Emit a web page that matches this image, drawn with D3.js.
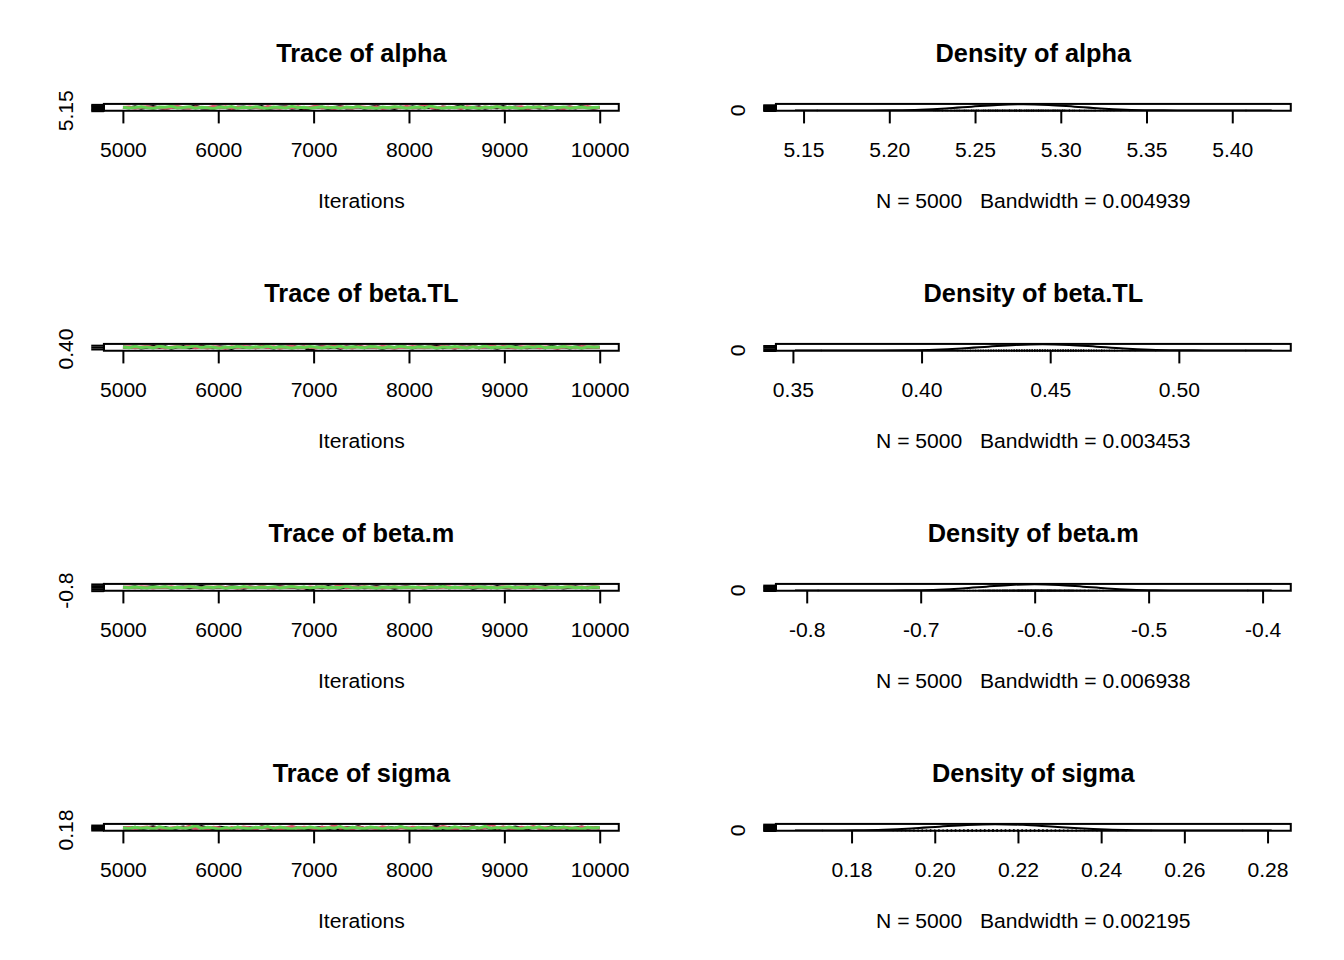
<!DOCTYPE html>
<html><head><meta charset="utf-8">
<script src="https://cdn.jsdelivr.net/npm/d3@7"></script>
<style>
body{margin:0;background:#fff}
text{font-family:"Liberation Sans",Arial,Helvetica,sans-serif;fill:#000}
</style>
</head><body>
<svg id="c" width="1344" height="960"></svg>
<script>
// ---------------- data ----------------
const params = ["alpha", "beta.TL", "beta.m", "sigma"];
const bandwidths = ["0.004939", "0.003453", "0.006938", "0.002195"];
const nSamples = 5000;
const iterStart = 5001, iterEnd = 10000;
const chainColors = ["#000000", "#DF536B", "#61D04F"];

// thinned trace values (3 chains) per parameter
const traceAlpha = [
 [5.281,5.262,5.301,5.247,5.290,5.312,5.268,5.239,5.285,5.296,5.254,5.273,5.329,5.260,5.244,5.288,5.307,5.271,5.226,5.283,
  5.299,5.258,5.275,5.318,5.241,5.266,5.292,5.305,5.251,5.280,5.158,5.264,5.295,5.287,5.233,5.276,5.314,5.259,5.270,5.302,
  5.248,5.284,5.323,5.263,5.279,5.238,5.293,5.269,5.308,5.255,5.286,5.274,5.231,5.297,5.265,5.289,5.340,5.252,5.277,5.301,
  5.243,5.282,5.267,5.311,5.256,5.291,5.273,5.236,5.298,5.261,5.284,5.305,5.249,5.276,5.294,5.258,5.320,5.271,5.245,5.287],
 [5.272,5.295,5.250,5.283,5.307,5.261,5.289,5.240,5.277,5.316,5.266,5.248,5.293,5.281,5.258,5.325,5.270,5.302,5.237,5.286,
  5.263,5.299,5.274,5.252,5.310,5.280,5.244,5.291,5.268,5.305,5.256,5.279,5.335,5.262,5.287,5.229,5.296,5.273,5.251,5.313,
  5.284,5.260,5.300,5.242,5.276,5.292,5.267,5.319,5.254,5.282,5.408,5.270,5.246,5.297,5.264,5.288,5.234,5.303,5.278,5.257,
  5.294,5.271,5.315,5.249,5.285,5.266,5.301,5.239,5.280,5.308,5.259,5.290,5.274,5.227,5.298,5.263,5.283,5.311,5.255,5.276],
 [5.288,5.256,5.276,5.309,5.263,5.241,5.297,5.282,5.320,5.259,5.274,5.301,5.245,5.286,5.267,5.231,5.293,5.278,5.314,5.252,
  5.283,5.262,5.305,5.270,5.238,5.296,5.281,5.257,5.327,5.265,5.290,5.248,5.275,5.303,5.260,5.287,5.243,5.299,5.272,5.311,
  5.255,5.279,5.236,5.292,5.268,5.306,5.284,5.250,5.273,5.298,5.262,5.331,5.277,5.246,5.289,5.266,5.302,5.253,5.281,5.240,
  5.295,5.270,5.317,5.258,5.285,5.264,5.228,5.291,5.276,5.304,5.251,5.287,5.269,5.300,5.244,5.280,5.296,5.261,5.274,5.289]
];
const traceBetaTL = [
 [0.452,0.438,0.461,0.429,0.447,0.470,0.441,0.456,0.423,0.449,0.466,0.435,0.451,0.478,0.443,0.430,0.458,0.446,0.414,0.462,
  0.440,0.455,0.433,0.468,0.448,0.426,0.459,0.444,0.472,0.437,0.453,0.361,0.445,0.464,0.431,0.450,0.418,0.457,0.442,0.475,
  0.434,0.460,0.447,0.421,0.454,0.439,0.467,0.445,0.428,0.463,0.441,0.456,0.483,0.436,0.449,0.425,0.461,0.443,0.470,0.432,
  0.458,0.446,0.419,0.453,0.438,0.465,0.444,0.430,0.459,0.448,0.435,0.471,0.442,0.456,0.427,0.451,0.464,0.440,0.454,0.446],
 [0.444,0.459,0.432,0.451,0.468,0.437,0.455,0.424,0.448,0.462,0.441,0.476,0.435,0.453,0.427,0.460,0.446,0.416,0.457,0.439,
  0.466,0.449,0.431,0.463,0.442,0.455,0.420,0.450,0.473,0.436,0.458,0.444,0.429,0.461,0.447,0.491,0.438,0.452,0.426,0.465,
  0.443,0.457,0.433,0.469,0.445,0.422,0.454,0.440,0.462,0.448,0.430,0.459,0.437,0.474,0.446,0.425,0.456,0.441,0.467,0.434,
  0.451,0.526,0.439,0.463,0.444,0.428,0.458,0.447,0.470,0.436,0.453,0.442,0.417,0.460,0.449,0.432,0.465,0.443,0.455,0.438],
 [0.449,0.436,0.463,0.442,0.455,0.428,0.470,0.445,0.433,0.458,0.440,0.452,0.481,0.437,0.460,0.446,0.422,0.454,0.439,0.467,
  0.443,0.431,0.457,0.448,0.473,0.434,0.461,0.445,0.419,0.452,0.438,0.465,0.447,0.427,0.456,0.441,0.469,0.435,0.459,0.444,
  0.430,0.462,0.450,0.424,0.457,0.439,0.471,0.446,0.433,0.460,0.443,0.455,0.421,0.451,0.437,0.466,0.448,0.429,0.458,0.442,
  0.475,0.436,0.453,0.440,0.462,0.447,0.426,0.457,0.444,0.468,0.432,0.454,0.441,0.463,0.437,0.450,0.423,0.459,0.445,0.452]
];
const traceBetaM = [
 [-0.592,-0.618,-0.571,-0.633,-0.597,-0.556,-0.611,-0.584,-0.646,-0.603,-0.575,-0.622,-0.589,-0.540,-0.607,-0.631,-0.580,-0.614,-0.563,-0.599,
  -0.652,-0.587,-0.609,-0.568,-0.625,-0.594,-0.549,-0.616,-0.582,-0.637,-0.601,-0.790,-0.578,-0.620,-0.560,-0.605,-0.641,-0.586,-0.613,-0.572,
  -0.628,-0.596,-0.553,-0.610,-0.583,-0.657,-0.598,-0.566,-0.619,-0.590,-0.635,-0.577,-0.604,-0.545,-0.623,-0.593,-0.612,-0.569,-0.648,-0.600,
  -0.581,-0.626,-0.558,-0.608,-0.639,-0.588,-0.615,-0.574,-0.630,-0.595,-0.552,-0.617,-0.585,-0.643,-0.602,-0.567,-0.621,-0.591,-0.579,-0.606],
 [-0.607,-0.583,-0.629,-0.561,-0.598,-0.644,-0.590,-0.616,-0.570,-0.624,-0.595,-0.551,-0.612,-0.638,-0.586,-0.603,-0.565,-0.627,-0.591,-0.659,
  -0.599,-0.576,-0.620,-0.547,-0.608,-0.634,-0.582,-0.613,-0.562,-0.597,-0.640,-0.588,-0.605,-0.573,-0.631,-0.594,-0.413,-0.618,-0.580,-0.609,
  -0.555,-0.626,-0.593,-0.649,-0.601,-0.568,-0.614,-0.587,-0.636,-0.578,-0.604,-0.543,-0.622,-0.596,-0.571,-0.632,-0.589,-0.611,-0.559,-0.600,
  -0.645,-0.585,-0.619,-0.574,-0.606,-0.628,-0.564,-0.597,-0.641,-0.592,-0.615,-0.577,-0.633,-0.602,-0.550,-0.610,-0.586,-0.624,-0.569,-0.603],
 [-0.596,-0.621,-0.578,-0.610,-0.642,-0.587,-0.604,-0.563,-0.626,-0.593,-0.615,-0.548,-0.601,-0.635,-0.582,-0.609,-0.572,-0.654,-0.597,-0.619,
  -0.560,-0.606,-0.630,-0.589,-0.613,-0.574,-0.639,-0.595,-0.557,-0.617,-0.584,-0.647,-0.603,-0.570,-0.625,-0.592,-0.612,-0.546,-0.608,-0.637,
  -0.581,-0.599,-0.662,-0.588,-0.614,-0.566,-0.628,-0.594,-0.576,-0.611,-0.640,-0.585,-0.605,-0.553,-0.622,-0.598,-0.633,-0.579,-0.608,-0.567,
  -0.618,-0.591,-0.643,-0.600,-0.573,-0.627,-0.589,-0.611,-0.556,-0.602,-0.636,-0.583,-0.614,-0.594,-0.570,-0.624,-0.599,-0.645,-0.587,-0.606]
];
const traceSigma = [
 [0.216,0.209,0.224,0.203,0.218,0.231,0.211,0.220,0.198,0.214,0.227,0.207,0.219,0.238,0.212,0.201,0.223,0.215,0.195,0.226,
  0.210,0.217,0.204,0.233,0.213,0.199,0.222,0.208,0.229,0.216,0.205,0.173,0.214,0.225,0.202,0.218,0.192,0.221,0.211,0.236,
  0.206,0.219,0.214,0.197,0.224,0.209,0.230,0.215,0.200,0.222,0.212,0.217,0.244,0.207,0.220,0.196,0.226,0.213,0.234,0.203,
  0.219,0.210,0.193,0.223,0.208,0.228,0.214,0.201,0.225,0.216,0.205,0.232,0.211,0.219,0.199,0.215,0.227,0.209,0.221,0.213],
 [0.212,0.221,0.204,0.217,0.230,0.207,0.219,0.196,0.214,0.226,0.209,0.240,0.203,0.218,0.198,0.224,0.213,0.191,0.222,0.208,
  0.229,0.215,0.201,0.227,0.211,0.220,0.194,0.216,0.235,0.206,0.223,0.212,0.199,0.225,0.214,0.252,0.208,0.218,0.197,0.228,
  0.210,0.221,0.202,0.232,0.213,0.195,0.219,0.207,0.226,0.215,0.200,0.224,0.206,0.239,0.214,0.197,0.220,0.209,0.231,0.204,
  0.217,0.274,0.208,0.227,0.212,0.199,0.223,0.214,0.234,0.205,0.218,0.210,0.190,0.225,0.216,0.203,0.229,0.211,0.220,0.207],
 [0.215,0.206,0.226,0.210,0.222,0.199,0.233,0.213,0.203,0.224,0.208,0.218,0.246,0.205,0.225,0.214,0.194,0.220,0.207,0.230,
  0.211,0.201,0.223,0.216,0.237,0.204,0.227,0.212,0.192,0.219,0.206,0.229,0.215,0.198,0.221,0.209,0.234,0.203,0.225,0.212,
  0.200,0.227,0.217,0.196,0.222,0.208,0.236,0.214,0.202,0.226,0.210,0.221,0.193,0.218,0.205,0.231,0.215,0.199,0.224,0.211,
  0.239,0.204,0.219,0.209,0.228,0.214,0.197,0.223,0.212,0.232,0.201,0.220,0.208,0.230,0.205,0.217,0.195,0.225,0.213,0.219]
];

// density curves
const densAlphaX = [5.145,5.160,5.175,5.188,5.203,5.218,5.233,5.248,5.263,5.278,5.293,5.308,5.323,5.338,5.353,5.368,5.383,5.398,5.413,5.423];
const densAlphaY = [0.01,0.03,0.04,0.15,0.58,1.80,4.32,8.07,11.74,13.30,11.74,8.07,4.32,1.80,0.58,0.15,0.03,0.01,0.02,0.01];
const densBetaTLX = [0.3508,0.3612,0.3735,0.3840,0.3945,0.4050,0.4155,0.4260,0.4365,0.4470,0.4575,0.4680,0.4785,0.4890,0.4995,0.5100,0.5205,0.5310,0.5361];
const densBetaTLY = [0.01,0.03,0.04,0.21,0.83,2.56,6.14,11.46,16.68,18.90,16.68,11.46,6.14,2.56,0.83,0.21,0.04,0.03,0.01];
const densBetaMX = [-0.8103,-0.7895,-0.7700,-0.7484,-0.7272,-0.7060,-0.6848,-0.6636,-0.6424,-0.6212,-0.6000,-0.5788,-0.5576,-0.5364,-0.5152,-0.4940,-0.4728,-0.4516,-0.4300,-0.4128,-0.3920];
const densBetaMY = [0.01,0.02,0.01,0.02,0.10,0.41,1.27,3.06,5.71,8.30,9.41,8.30,5.71,3.06,1.27,0.41,0.10,0.02,0.01,0.02,0.01];
const densSigmaX = [0.1664,0.1743,0.1810,0.1877,0.1944,0.2011,0.2078,0.2145,0.2212,0.2279,0.2346,0.2413,0.2480,0.2547,0.2614,0.2681,0.2744,0.2810];
const densSigmaY = [0.05,0.33,1.31,4.03,9.68,18.07,26.30,29.80,26.60,18.60,10.40,4.60,1.60,0.45,0.10,0.03,0.02,0.01];

const traces = [traceAlpha, traceBetaTL, traceBetaM, traceSigma];
const densX = [densAlphaX, densBetaTLX, densBetaMX, densSigmaX];
const densY = [densAlphaY, densBetaTLY, densBetaMY, densSigmaY];

// ---------------- layout ----------------
const W = 1344, H = 960;
const LINE = 25.344;            // one margin line in px
const FS = 21.12, TFS = 25.344; // axis / title font sizes
const TICK = LINE / 2;
const LW = 2;
const svg = d3.select("#c");
svg.append("rect").attr("width", W).attr("height", H).attr("fill", "#fff");

function boxOf(col, row) {
  return {
    x0: col * 672 + 4.1 * LINE, x1: col * 672 + 672 - 2.1 * LINE,
    y0: row * 240 + 4.1 * LINE, y1: row * 240 + 240 - 5.1 * LINE
  };
}
function pad(ext) { const r = ext[1] - ext[0]; return [ext[0] - 0.04 * r, ext[1] + 0.04 * r]; }
const fmtFix = f => (v => f(v).replace("\u2212", "-").replace(/,/g, ""));

function drawAxes(g, b, x, y) {
  // bottom axis
  const xf = fmtFix(x.tickFormat(5));
  const ax = g.append("g").attr("transform", `translate(0,${b.y1})`)
    .call(d3.axisBottom(x).ticks(5).tickSize(TICK).tickSizeOuter(0).tickFormat(xf));
  ax.select(".domain").remove();
  ax.selectAll("line").attr("stroke", "#000").attr("stroke-width", LW);
  ax.selectAll("text").attr("y", 46.5).attr("dy", null)
    .style("font-size", FS + "px").attr("fill", "#000");
  // left axis: axis line from first to last tick plus ticks
  const yf = fmtFix(y.tickFormat(5));
  const ticks = y.ticks(5).slice().sort((a, c) => a - c);
  g.append("line").attr("x1", b.x0).attr("x2", b.x0)
    .attr("y1", y(ticks[0])).attr("y2", y(ticks[ticks.length - 1]))
    .attr("stroke", "#000").attr("stroke-width", LW).attr("stroke-linecap", "square");
  const ay = g.append("g").attr("transform", `translate(${b.x0},0)`)
    .call(d3.axisLeft(y).ticks(5).tickSize(TICK).tickSizeOuter(0).tickFormat(yf));
  ay.select(".domain").remove();
  ay.selectAll("line").attr("stroke", "#000").attr("stroke-width", LW);
  ay.selectAll("text").remove();
  let lastPos = null;
  ticks.forEach(t => {
    const py = y(t);
    const tx = g.append("text")
      .attr("transform", `translate(${b.x0 - 30.5},${py}) rotate(-90)`)
      .attr("text-anchor", "middle").style("font-size", FS + "px").text(yf(t));
    const w = tx.node().getComputedTextLength();
    if (lastPos !== null && (lastPos - py) < w + FS * 0.5) { tx.remove(); return; }
    lastPos = py;
  });
}

params.forEach((name, row) => {
  // ---- trace panel ----
  const b = boxOf(0, row);
  const chains = traces[row];
  const allVals = chains.flat();
  const x = d3.scaleLinear().domain(pad([iterStart, iterEnd])).range([b.x0, b.x1]);
  const y = d3.scaleLinear().domain(pad(d3.extent(allVals))).range([b.y1, b.y0]);
  const g = svg.append("g");
  const cid = "clipT" + row;
  svg.append("clipPath").attr("id", cid).append("rect")
    .attr("x", b.x0).attr("y", b.y0).attr("width", b.x1 - b.x0).attr("height", b.y1 - b.y0);
  const n = chains[0].length;
  const iterAt = i => iterStart + i * (iterEnd - iterStart) / (n - 1);
  const line = d3.line().x((d, i) => x(iterAt(i))).y(d => y(d));
  chains.forEach((ch, k) => {
    g.append("path").attr("d", line(ch)).attr("fill", "none")
      .attr("stroke", chainColors[k]).attr("stroke-width", 3)
      .attr("clip-path", `url(#${cid})`);
  });
  drawAxes(g, b, x, y);
  g.append("rect").attr("x", b.x0).attr("y", b.y0).attr("width", b.x1 - b.x0).attr("height", b.y1 - b.y0)
    .attr("fill", "none").attr("stroke", "#000").attr("stroke-width", LW);
  const cx = (b.x0 + b.x1) / 2;
  g.append("text").attr("x", cx).attr("y", row * 240 + 62).attr("text-anchor", "middle")
    .style("font-size", TFS + "px").style("font-weight", "bold").text("Trace of " + name);
  g.append("text").attr("x", cx).attr("y", b.y1 + 97.2).attr("text-anchor", "middle")
    .style("font-size", FS + "px").text("Iterations");

  // ---- density panel ----
  const bd = boxOf(1, row);
  const dx = densX[row], dy = densY[row];
  const xd = d3.scaleLinear().domain(pad(d3.extent(dx))).range([bd.x0, bd.x1]);
  const ymax = d3.max(dy);
  const yd = d3.scaleLinear().domain(pad([0, ymax])).range([bd.y1, bd.y0]);
  const gd = svg.append("g");
  const cid2 = "clipD" + row;
  svg.append("clipPath").attr("id", cid2).append("rect")
    .attr("x", bd.x0).attr("y", bd.y0).attr("width", bd.x1 - bd.x0).attr("height", bd.y1 - bd.y0);
  const dline = d3.line().x((d, i) => xd(dx[i])).y(d => yd(d)).curve(d3.curveMonotoneX);
  gd.append("path").attr("d", dline(dy)).attr("fill", "none").attr("stroke", "#000")
    .attr("stroke-width", LW).attr("clip-path", `url(#${cid2})`);
  // observations rug (tiny marks at the bottom)
  gd.selectAll(null).data(allVals).enter().append("line")
    .attr("x1", d => xd(d)).attr("x2", d => xd(d))
    .attr("y1", yd(0)).attr("y2", yd(ymax / 100))
    .attr("stroke", "#000").attr("stroke-width", LW).attr("stroke-linecap", "round")
    .attr("stroke-opacity", 0.55);
  drawAxes(gd, bd, xd, yd);
  gd.append("rect").attr("x", bd.x0).attr("y", bd.y0).attr("width", bd.x1 - bd.x0).attr("height", bd.y1 - bd.y0)
    .attr("fill", "none").attr("stroke", "#000").attr("stroke-width", LW);
  const cxd = (bd.x0 + bd.x1) / 2;
  gd.append("text").attr("x", cxd).attr("y", row * 240 + 62).attr("text-anchor", "middle")
    .style("font-size", TFS + "px").style("font-weight", "bold").text("Density of " + name);
  gd.append("text").attr("x", cxd).attr("y", bd.y1 + 97.2).attr("text-anchor", "middle")
    .style("font-size", FS + "px").style("white-space", "pre").attr("xml:space", "preserve")
    .text(`N = ${nSamples}   Bandwidth = ${bandwidths[row]}`);
});
</script>
</body></html>
